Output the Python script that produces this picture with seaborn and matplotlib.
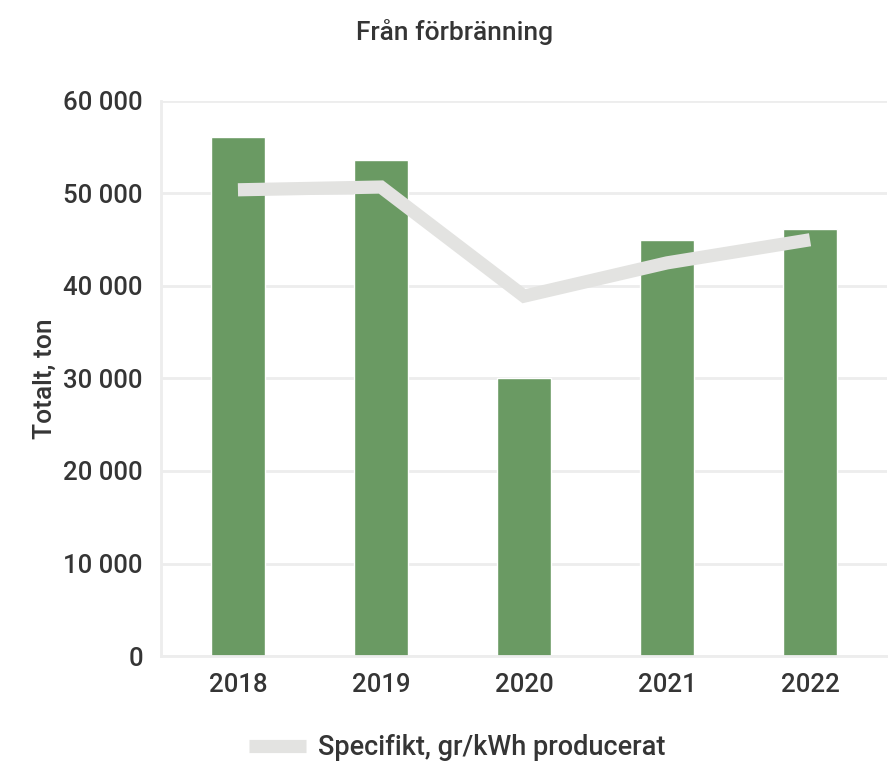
"""
Utsläpp från förbränning: totalt (ton) och specifikt (gr/kWh), 2018-2022.
Sparar out.png.
"""

import matplotlib
matplotlib.use("Agg")
import matplotlib.pyplot as plt
import matplotlib.ticker as mticker
import pandas as pd
import seaborn as sns

ar = ["2018", "2019", "2020", "2021", "2022"]
totalt_ton = [56100, 53600, 30000, 45000, 46200]
specifikt = [50400, 50700, 38900, 42500, 45000]

GREEN = "#6A9A63"
LINE_GREY = "#E3E3E1"
GRID = "#EDEDED"
TEXT = "#353535"

sns.set_theme(style="white")
plt.rcParams["font.family"] = ["Roboto", "DejaVu Sans"]

fmt_sv = mticker.FuncFormatter(lambda x, _: f"{x:,.0f}".replace(",", " "))

df = pd.DataFrame({"ar": ar, "totalt": totalt_ton, "specifikt": specifikt})

fig = plt.figure(figsize=(8.88, 7.64), dpi=100)
ax = fig.add_axes([161 / 888, 1 - 656 / 764, 726 / 888, 555 / 764])

sns.barplot(data=df, x="ar", y="totalt", color=GREEN, width=0.378,
            saturation=1, ax=ax, zorder=2)
ax.plot(range(len(ar)), df["specifikt"], color=LINE_GREY, linewidth=9.5,
        solid_capstyle="butt", solid_joinstyle="miter", zorder=3,
        label="Specifikt, gr/kWh producerat")

ax.set_xlim(-0.538, 4.538)
ax.set_ylim(0, 60000)
ax.set_yticks(range(0, 60001, 10000))
ax.yaxis.set_major_formatter(fmt_sv)
ax.grid(axis="y", color=GRID, linewidth=2, zorder=0)
ax.set_axisbelow(True)

for s in ["top", "right"]:
    ax.spines[s].set_visible(False)
for s in ["left", "bottom"]:
    ax.spines[s].set_color(GRID)
    ax.spines[s].set_linewidth(2)

ax.tick_params(axis="both", length=0, labelsize=18.5, colors=TEXT)
ax.tick_params(axis="y", pad=13)
ax.tick_params(axis="x", pad=12)
for lbl in ax.get_xticklabels() + ax.get_yticklabels():
    lbl.set_fontweight("medium")
ax.set_xlabel("")
ax.set_ylabel("Totalt, ton", fontsize=19, color=TEXT, labelpad=5,
              fontweight="medium")

fig.text(455 / 888, 1 - 32 / 764, "Från förbränning", ha="center", va="center",
         fontsize=19, color=TEXT, fontweight="medium")

leg = ax.legend(loc="center", bbox_to_anchor=(0.408, -0.165), frameon=False,
                fontsize=19.5, handlelength=2.1, handletextpad=0.45,
                labelcolor=TEXT)
for t in leg.get_texts():
    t.set_fontweight("medium")

fig.savefig("out.png", dpi=100)
